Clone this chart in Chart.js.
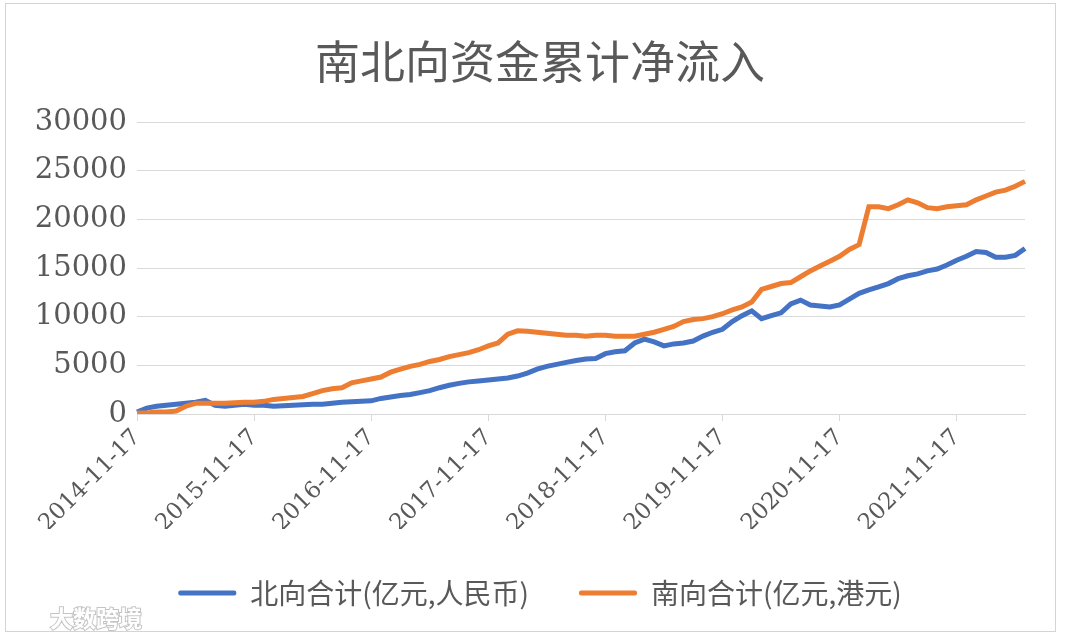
<!DOCTYPE html>
<html>
<head>
<meta charset="utf-8">
<script src="https://cdn.jsdelivr.net/npm/chart.js@4.4.1/dist/chart.umd.min.js"></script>
<style>
  html, body { margin: 0; padding: 0; background: #fff; }
</style>
</head>
<body>
<canvas id="my-chart" width="1080" height="637"></canvas>
<script>
// monthly samples
const dates = [
  '2014-11-17', '2014-12-17',
  '2015-01-17', '2015-02-17', '2015-03-17', '2015-04-17', '2015-05-17', '2015-06-17', '2015-07-17', '2015-08-17', '2015-09-17', '2015-10-17', '2015-11-17', '2015-12-17',
  '2016-01-17', '2016-02-17', '2016-03-17', '2016-04-17', '2016-05-17', '2016-06-17', '2016-07-17', '2016-08-17', '2016-09-17', '2016-10-17', '2016-11-17', '2016-12-17',
  '2017-01-17', '2017-02-17', '2017-03-17', '2017-04-17', '2017-05-17', '2017-06-17', '2017-07-17', '2017-08-17', '2017-09-17', '2017-10-17', '2017-11-17', '2017-12-17',
  '2018-01-17', '2018-02-17', '2018-03-17', '2018-04-17', '2018-05-17', '2018-06-17', '2018-07-17', '2018-08-17', '2018-09-17', '2018-10-17', '2018-11-17', '2018-12-17',
  '2019-01-17', '2019-02-17', '2019-03-17', '2019-04-17', '2019-05-17', '2019-06-17', '2019-07-17', '2019-08-17', '2019-09-17', '2019-10-17', '2019-11-17', '2019-12-17',
  '2020-01-17', '2020-02-17', '2020-03-17', '2020-04-17', '2020-05-17', '2020-06-17', '2020-07-17', '2020-08-17', '2020-09-17', '2020-10-17', '2020-11-17', '2020-12-17',
  '2021-01-17', '2021-02-17', '2021-03-17', '2021-04-17', '2021-05-17', '2021-06-17', '2021-07-17', '2021-08-17', '2021-09-17', '2021-10-17', '2021-11-17', '2021-12-17',
  '2022-01-17', '2022-02-17', '2022-03-17', '2022-04-17', '2022-05-17', '2022-06-17'
];

// 北向合计 (亿元, 人民币)
const northFlow = [
  200, 600,
  800, 900, 1000, 1100, 1200, 1400, 900, 800, 900, 1000, 900, 900,
  800, 850, 900, 950, 1000, 1000, 1100, 1200, 1250, 1300, 1350, 1600,
  1750, 1900, 2000, 2200, 2400, 2700, 2950, 3150, 3300, 3400, 3500, 3600,
  3700, 3900, 4200, 4600, 4900, 5100, 5300, 5500, 5650, 5700, 6200, 6400,
  6500, 7300, 7700, 7400, 7000, 7200, 7300, 7500, 8000, 8400, 8700, 9500,
  10100, 10600, 9800, 10100, 10400, 11300, 11700, 11200, 11100, 11000, 11200, 11800,
  12400, 12750, 13050, 13400, 13900, 14200, 14400, 14700, 14900, 15300, 15800, 16200,
  16700, 16600, 16100, 16100, 16300, 17000
];

// 南向合计 (亿元, 港元)
const southFlow = [
  100, 100,
  200, 200, 300, 800, 1100, 1100, 1100, 1100, 1150, 1200, 1200, 1300,
  1500, 1600, 1700, 1800, 2100, 2400, 2600, 2700, 3200, 3400, 3600, 3800,
  4300, 4600, 4900, 5100, 5400, 5600, 5900, 6100, 6300, 6600, 7000, 7300,
  8200, 8550, 8500, 8400, 8300, 8200, 8100, 8100, 8000, 8100, 8100, 8000,
  8000, 8000, 8200, 8400, 8700, 9000, 9500, 9700, 9800, 10000, 10300, 10700,
  11000, 11500, 12800, 13100, 13400, 13500, 14100, 14700, 15200, 15700, 16200, 16900,
  17400, 21300, 21300, 21100, 21500, 22000, 21700, 21200, 21100, 21300, 21400, 21500,
  22000, 22400, 22800, 23000, 23400, 23900
];

const yTicks = [0, 5000, 10000, 15000, 20000, 25000, 30000];

const grey = '#595959';
const gridGrey = '#d9d9d9';

// frame round the picture + the watermark at bottom left
const framePlugin = {
  id: 'frame',
  afterDraw(chart) {
    const ctx = chart.ctx;
    ctx.save();
    ctx.strokeStyle = '#d4d4d4';
    ctx.lineWidth = 1;
    ctx.strokeRect(5.5, 3.5, 1050, 628);
    ctx.font = 'bold 23px "Noto Sans CJK SC"';
    ctx.textBaseline = 'alphabetic';
    ctx.lineWidth = 2;
    ctx.strokeStyle = '#c4c4c4';
    ctx.fillStyle = '#ffffff';
    ctx.strokeText('大数跨境', 50, 627);
    ctx.fillText('大数跨境', 50, 627);
    ctx.restore();
  }
};

const ctx = document.getElementById('my-chart').getContext('2d');
const chart = new Chart(ctx, {
  type: 'line',
  data: {
    labels: dates,
    datasets: [
      {
        label: '北向合计(亿元,人民币)',
        data: northFlow,
        borderColor: '#4472C4',
        backgroundColor: '#4472C4',
        borderWidth: 5,
        pointRadius: 0,
        tension: 0,
        order: 1
      },
      {
        label: '南向合计(亿元,港元)',
        data: southFlow,
        borderColor: '#ED7D31',
        backgroundColor: '#ED7D31',
        borderWidth: 5,
        pointRadius: 0,
        tension: 0,
        order: 0
      }
    ]
  },
  options: {
    responsive: false,
    animation: false,
    devicePixelRatio: 1,
    layout: { padding: { left: 0, right: 0, top: 0, bottom: 20 } },
    scales: {
      x: {
        grid: { drawOnChartArea: false, drawTicks: true, tickLength: 7, color: gridGrey },
        border: { display: true, color: gridGrey },
        ticks: {
          autoSkip: false,
          maxRotation: 45,
          minRotation: 45,
          padding: 3,
          color: grey,
          font: { family: '"DejaVu Serif"', size: 23 },
          callback: function (value) {
            const d = this.getLabelForValue(value);
            return d.slice(5) === '11-17' ? d : null;
          }
        },
        afterFit(scale) { scale.height = 115; }
      },
      y: {
        min: 0,
        max: 30000,
        grid: { color: gridGrey, drawTicks: false },
        border: { display: false },
        afterBuildTicks(scale) { scale.ticks = yTicks.map(v => ({ value: v })); },
        ticks: {
          padding: 10,
          color: grey,
          font: { family: '"DejaVu Serif"', size: 29 },
          callback: v => String(v)
        },
        afterFit(scale) { scale.width = 137; }
      },
      // empty right-hand gutter so the title and legend stay centred on the page
      gutter: {
        type: 'linear',
        position: 'right',
        grid: { display: false },
        border: { display: false },
        ticks: { display: false },
        afterFit(scale) { scale.width = 55; }
      }
    },
    plugins: {
      tooltip: { enabled: false },
      title: {
        display: true,
        text: '南北向资金累计净流入',
        color: grey,
        font: { family: '"Noto Sans CJK SC"', size: 45, weight: 'normal' },
        padding: { top: 35, bottom: 33 }
      },
      legend: {
        position: 'bottom',
        labels: {
          color: grey,
          font: { family: '"Noto Sans CJK SC"', size: 28 },
          boxWidth: 58,
          boxHeight: 5,
          padding: 50,
          useBorderRadius: true,
          borderRadius: 2,
          sort: (a, b) => a.datasetIndex - b.datasetIndex,
          generateLabels(c) {
            const items = Chart.defaults.plugins.legend.labels.generateLabels(c);
            items.forEach(it => { it.lineWidth = 0; });
            return items;
          }
        }
      }
    }
  },
  plugins: [framePlugin]
});
</script>
</body>
</html>
